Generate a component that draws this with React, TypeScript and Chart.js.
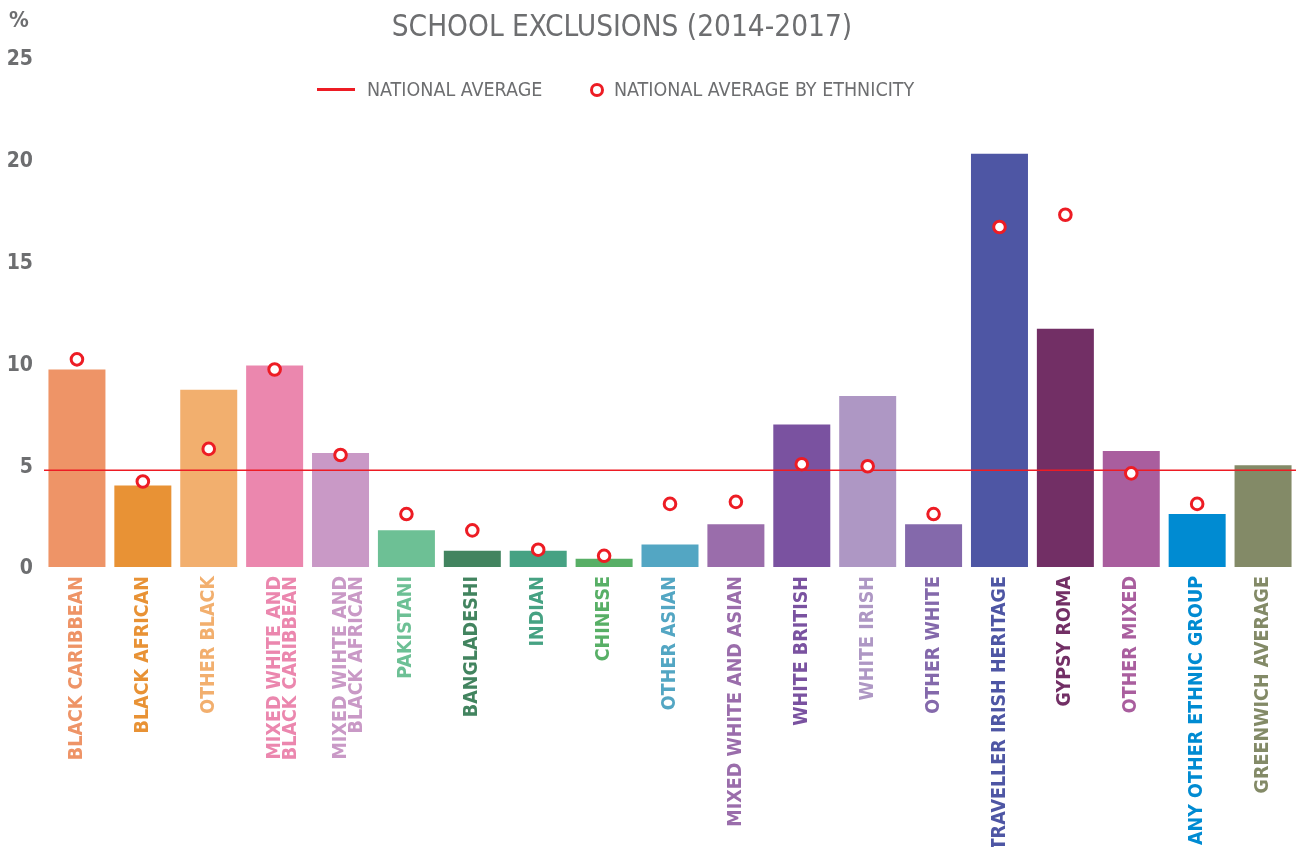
import React, { useEffect, useRef } from "react";
import { Chart, registerables } from "chart.js";

Chart.register(...registerables);

const TITLE = "SCHOOL EXCLUSIONS (2014-2017)";
const Y_UNIT = "%";
const LEGEND_LINE = "NATIONAL AVERAGE";
const LEGEND_DOTS = "NATIONAL AVERAGE BY ETHNICITY";

const categories: (string | string[])[] = [
  "BLACK CARIBBEAN",
  "BLACK AFRICAN",
  "OTHER BLACK",
  ["MIXED WHITE AND", "BLACK CARIBBEAN"],
  ["MIXED WIHTE AND", "BLACK AFRICAN"],
  "PAKISTANI",
  "BANGLADESHI",
  "INDIAN",
  "CHINESE",
  "OTHER ASIAN",
  "MIXED WHITE AND ASIAN",
  "WHITE BRITISH",
  "WHITE IRISH",
  "OTHER WHITE",
  "TRAVELLER IRISH HERITAGE",
  "GYPSY ROMA",
  "OTHER MIXED",
  "ANY OTHER ETHNIC GROUP",
  "GREENWICH AVERAGE",
];

const greenwichValues = [9.7, 4.0, 8.7, 9.9, 5.6, 1.8, 0.8, 0.8, 0.4, 1.1, 2.1, 7.0, 8.4, 2.1, 20.3, 11.7, 5.7, 2.6, 5.0];

const nationalByEthnicity: (number | null)[] = [10.2, 4.2, 5.8, 9.7, 5.5, 2.6, 1.8, 0.85, 0.55, 3.1, 3.2, 5.05, 4.95, 2.6, 16.7, 17.3, 4.6, 3.1, null];

const NATIONAL_AVERAGE = 4.75;

const categoryColors = [
  "#EE9467", "#E89235", "#F2AF6E", "#EB87AE", "#C999C6", "#6DC095", "#42845F", "#46A283", "#58AF66", "#53A6C3",
  "#9A6DAB", "#7A52A0", "#AE97C4", "#8469AB", "#4E56A4", "#722F65", "#A95E9E", "#008BD2", "#838A67",
];

const yTicks = [0, 5, 10, 15, 20, 25];

const RED = "#ED1C24";
const GREY = "#6D6E70";
const FONT = "'Liberation Sans Narrow', 'DejaVu Sans Condensed', 'Roboto Condensed', sans-serif";

export default function App() {
  const ref = useRef<HTMLCanvasElement | null>(null);

  useEffect(() => {
    if (!ref.current) return;
    const chart = new Chart(ref.current, {
      type: "bar",
      data: {
        labels: categories,
        datasets: [
          {
            type: "line",
            label: LEGEND_DOTS,
            data: nationalByEthnicity,
            xAxisID: "xDots",
            grouped: false,
            showLine: false,
            pointRadius: 5.8,
            pointBorderWidth: 3,
            pointBorderColor: RED,
            pointBackgroundColor: "#FFFFFF",
            borderColor: RED,
            backgroundColor: "#FFFFFF",
            clip: false,
            order: 0,
          } as any,
          {
            type: "line",
            label: LEGEND_LINE,
            data: [
              { x: 0, y: NATIONAL_AVERAGE },
              { x: 1, y: NATIONAL_AVERAGE },
            ],
            xAxisID: "xLine",
            grouped: false,
            borderColor: RED,
            borderWidth: 1.6,
            pointRadius: 0,
            order: 1,
          } as any,
          {
            type: "bar",
            label: "Greenwich",
            data: greenwichValues,
            xAxisID: "x",
            grouped: false,
            backgroundColor: categoryColors,
            barPercentage: 0.865,
            categoryPercentage: 1,
            order: 2,
          } as any,
        ],
      },
      options: {
        responsive: false,
        animation: false,
        maintainAspectRatio: false,
        layout: { autoPadding: false, padding: { top: 58, left: 0, right: 0, bottom: 0 } },
        plugins: {
          legend: { display: false },
          title: { display: false },
          tooltip: { enabled: false },
        },
        scales: {
          x: {
            type: "category",
            grid: { display: false, drawTicks: false },
            border: { display: false },
            ticks: {
              autoSkip: false,
              maxRotation: 90,
              minRotation: 90,
              padding: 9,
              color: (ctx: any) => categoryColors[ctx.index],
              font: { family: FONT, size: 19.5, weight: "bold", lineHeight: 0.85 },
            },
            afterFit: (scale: any) => {
              scale.height = 280;
              scale.paddingLeft = 0;
              scale.paddingRight = 0;
            },
          },
          xDots: {
            type: "category",
            display: false,
            offset: true,
            grid: { display: false },
          },
          xLine: {
            type: "linear",
            display: false,
            offset: false,
            min: 0,
            max: 1,
          },
          y: {
            min: 0,
            max: 25,
            grid: { display: false, drawTicks: false },
            border: { display: false },
            afterBuildTicks: (scale: any) => {
              scale.ticks = yTicks.map((v) => ({ value: v }));
            },
            ticks: {
              color: GREY,
              padding: 11,
              labelOffset: 2,
              font: { family: FONT, size: 21, weight: "bold" },
            },
            afterFit: (scale: any) => {
              scale.width = 44;
            },
          },
        },
      } as any,
    });
    return () => chart.destroy();
  }, []);

  return (
    <div style={{ position: "absolute", left: 0, top: 0, width: 1296, height: 847, background: "#fff", fontFamily: FONT }}>
      <canvas ref={ref} width={1296} height={847} style={{ position: "absolute", left: 0, top: 0 }} />
      <div style={{ position: "absolute", left: 0, width: 1244, top: 9, textAlign: "center", color: GREY, fontSize: 29.5, lineHeight: "34px", whiteSpace: "nowrap" }}>
        {TITLE}
      </div>
      <div style={{ position: "absolute", left: 9, top: 7, color: GREY, fontSize: 22, fontWeight: "bold", lineHeight: "26px" }}>
        {Y_UNIT}
      </div>
      <span style={{ position: "absolute", left: 317, top: 88, width: 38, height: 3, background: RED }} />
      <div style={{ position: "absolute", left: 367, top: 78, color: GREY, fontSize: 19.5, lineHeight: "24px", whiteSpace: "nowrap" }}>
        {LEGEND_LINE}
      </div>
      <span style={{ position: "absolute", left: 590, top: 83, boxSizing: "border-box", width: 14, height: 14, borderRadius: "50%", border: `3px solid ${RED}`, background: "#fff" }} />
      <div style={{ position: "absolute", left: 614, top: 78, color: GREY, fontSize: 19.5, lineHeight: "24px", whiteSpace: "nowrap" }}>
        {LEGEND_DOTS}
      </div>
    </div>
  );
}
